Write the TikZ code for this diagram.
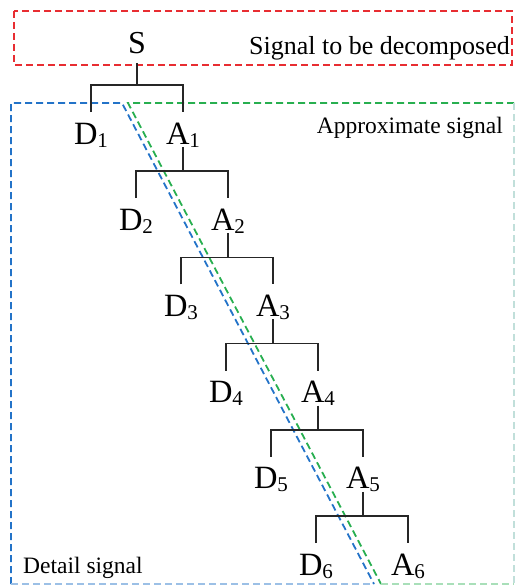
\documentclass[tikz,border=0pt]{standalone}
\usepackage{fontspec}
\setmainfont{Liberation Serif}
\definecolor{rdash}{RGB}{232,45,50}
\definecolor{bdash}{RGB}{35,115,200}
\definecolor{gdash}{RGB}{40,175,80}
\newcommand\subidx[1]{\raisebox{-3pt}{\fontsize{21}{24}\selectfont #1}}
\begin{document}
\begin{tikzpicture}[x=1pt,y=-1pt,
  lbl/.style={inner sep=0pt,anchor=base,font=\fontsize{32.5}{38}\selectfont},
  txt/.style={inner sep=0pt,font=\fontsize{23.5}{28}\selectfont},
  branch/.style={line width=1.6pt,black!85},
  dsh/.style={line width=1.8pt,dash pattern=on 7pt off 4pt}]
\useasboundingbox (0,0) rectangle (515,586);
% boxes
\draw[dsh,rdash] (14,11) rectangle (512,65);
\draw[dsh,bdash] (11,584) -- (11,103) -- (122,103) -- (374,584);
\draw[dsh,bdash!45] (11,584) -- (374,584);
\draw[dsh,gdash] (514,103) -- (128,103) -- (381,584);
\draw[dsh,gdash!40] (381,584) -- (514,584);
\draw[dsh,cyan!25!gdash!30] (514,103) -- (514,584);
% labels
\node[txt,anchor=base east,font=\fontsize{26}{30}\selectfont] (sig) at (510,55) {Signal to be decomposed};
\node[txt,anchor=base east] (app) at (503,133) {Approximate signal};
\node[txt,anchor=base west] (det) at (23,573) {Detail signal};
% tree
\node[lbl,font=\fontsize{32}{38}\selectfont] (S) at (137,53) {S};
\foreach \k in {1,...,6}{
  \pgfmathsetmacro{\xd}{91+45*(\k-1)}
  \pgfmathsetmacro{\xa}{183+45*(\k-1)}
  \pgfmathsetmacro{\yb}{85+86.2*(\k-1)}
  \pgfmathsetmacro{\yl}{144+86.2*(\k-1)}
  \coordinate (b\k) at ({(\xd+\xa)/2},\yb);
  \node[lbl] (D\k) at (\xd,\yl) {D\subidx{\k}};
  \node[lbl] (A\k) at (\xa,\yl) {A\subidx{\k}};
  \draw[branch] ([yshift=32pt]D\k.base) -- (D\k.base |- b\k) -- (A\k.base |- b\k) -- ([yshift=32pt]A\k.base);
}
\draw[branch] ([yshift=-10pt]S.base) -- (S.base |- b1);
\foreach \k [count=\j from 2] in {1,...,5}{
  \draw[branch] ([yshift=-3pt]A\k.base) -- (A\k.base |- b\j);
}
\end{tikzpicture}
\end{document}
